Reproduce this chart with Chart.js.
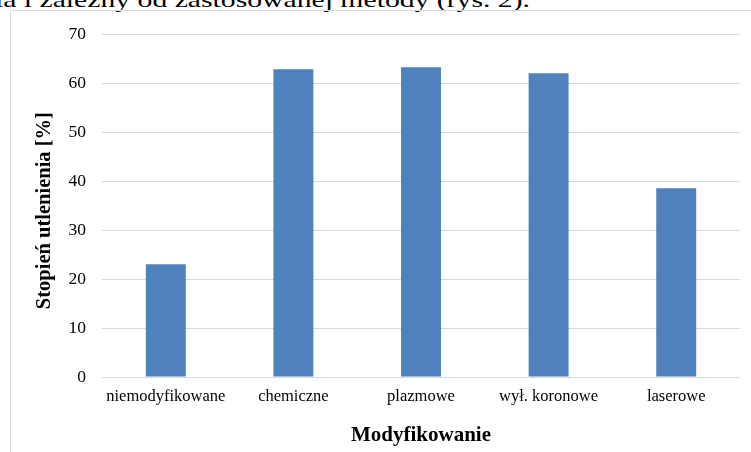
<!DOCTYPE html>
<html>
<head>
<meta charset="utf-8">
<script src="https://cdn.jsdelivr.net/npm/chart.js@4/dist/chart.umd.min.js"></script>
<style>
  html, body { margin: 0; padding: 0; background: #fff; overflow: hidden; width: 751px; height: 452px; }
  #wrap { position: relative; width: 751px; height: 452px; overflow: hidden; }
  #frame { position: absolute; left: 10px; top: 10px; width: 800px; height: 500px; border: 1px solid #d9d9d9; box-sizing: border-box; }
  #caption { position: absolute; left: -5px; top: -11px; font-family: "Liberation Serif", "Times New Roman", serif; font-size: 22px; line-height: 22px; white-space: nowrap; color: #000; transform-origin: 0 0; }
  canvas { position: absolute; left: 0; top: 0; }
</style>
</head>
<body>
<div id="wrap">
  <div id="caption">ia i zależny od zastosowanej metody (rys. 2).</div>
  <div id="frame"></div>
  <canvas id="c" width="751" height="452"></canvas>
</div>
<script>
const categories = ["niemodyfikowane", "chemiczne", "plazmowe", "wył. koronowe", "laserowe"];
const oxidationDegree = [23.0, 62.8, 63.2, 62.0, 38.5];
const yTitle = "Stopień utlenienia [%]";
const xTitle = "Modyfikowanie";

// fit caption width to the reference line
(function () {
  const cap = document.getElementById('caption');
  const w = cap.getBoundingClientRect().width;
  cap.style.transform = 'scaleX(' + (535 / w) + ')';
})();

const serif = '"Liberation Serif", "Times New Roman", serif';

new Chart(document.getElementById('c'), {
  type: 'bar',
  data: {
    labels: categories,
    datasets: [{
      data: oxidationDegree,
      backgroundColor: '#4f81bd',
      borderWidth: 0,
      barPercentage: 0.313,
      categoryPercentage: 1.0
    }]
  },
  options: {
    responsive: false,
    animation: false,
    devicePixelRatio: 1,
    layout: { padding: { left: 0, right: 11, top: 34, bottom: 0 } },
    plugins: { legend: { display: false }, tooltip: { enabled: false } },
    scales: {
      x: {
        grid: { display: false, drawTicks: false },
        border: { display: false },
        ticks: { color: '#000', font: { family: serif, size: 16.5 }, padding: 10, maxRotation: 0, autoSkip: false },
        title: { display: true, text: xTitle, color: '#000', font: { family: serif, size: 21, weight: 'bold' }, padding: { top: 0, bottom: 4 } },
        afterFit: (s) => { s.height = 75; }
      },
      y: {
        min: 0, max: 70,
        grid: { color: '#d9d9d9', lineWidth: 1, drawTicks: false },
        border: { display: false },
        ticks: { stepSize: 10, color: '#000', font: { family: serif, size: 17.5 }, padding: 16 },
        title: { display: true, text: yTitle + '\u00a0\u00a0', color: '#000', font: { family: serif, size: 20.5, weight: 'bold' }, padding: { top: 32, bottom: 0 } },
        afterFit: (s) => { s.width = 102; }
      }
    }
  }
});
</script>
</body>
</html>
